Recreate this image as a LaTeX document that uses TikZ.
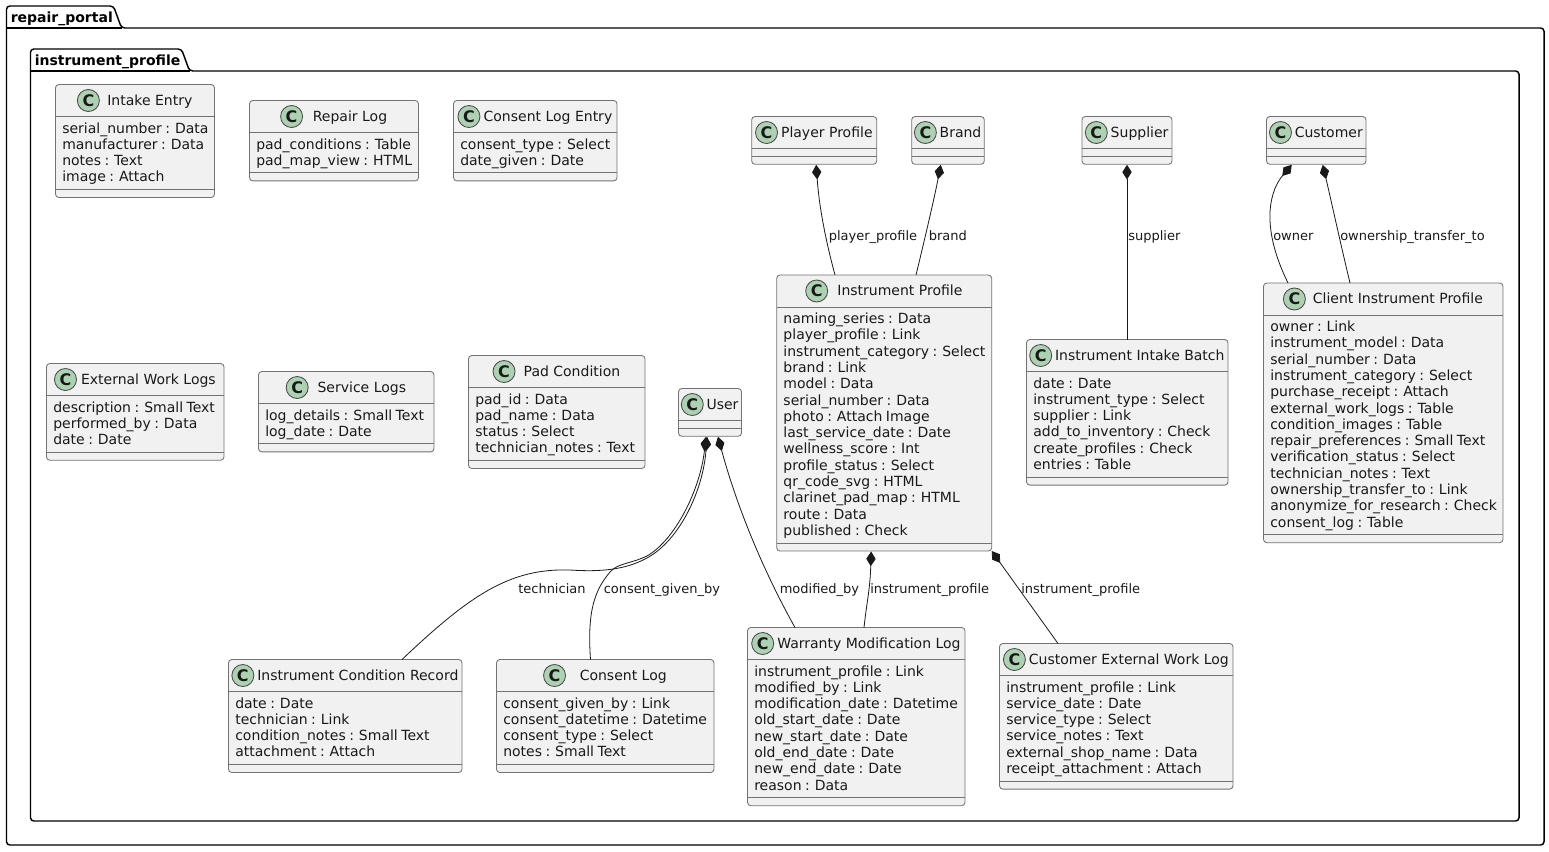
\documentclass[tikz,border=0pt]{standalone}
\usepackage{fontspec}
\setmainfont{DejaVu Sans}
\usetikzlibrary{positioning,calc,arrows.meta}

\definecolor{classfill}{HTML}{F1F1F1}
\definecolor{classicon}{HTML}{ADD1B2}
\newcommand{\fieldgap}{\spaceskip=2.6pt\relax}
\newlength{\titlewide}
\newsavebox{\titlebox}

\tikzset{
    classbox/.style={draw=black!55, fill=classfill, line width=0.65pt, rounded corners=2.5pt, inner sep=0pt, outer sep=0pt, anchor=north west},
    classrule/.style={draw=black!55, line width=0.65pt},
    classtitle/.style={inner sep=0pt, anchor=base, font=\fontsize{10.5}{12}\selectfont, text=black!90},
    classmark/.style={circle, draw=black!70, fill=classicon, line width=0.65pt, minimum size=16.5pt, inner sep=0pt, font=\fontsize{12}{12}\bfseries\selectfont, text=black!90},
    fieldtext/.style={inner sep=0pt, anchor=base west, font=\fontsize{10.5}{12}\selectfont, execute at begin node=\fieldgap, text=black!90},
    linklabel/.style={inner sep=0pt, anchor=base west, font=\fontsize{9.75}{12}\selectfont, text=black!90},
    composed/.style={{Diamond[length=11pt,width=7pt]}-, line width=0.6pt, color=black!90},
    pkgline/.style={draw=black, line width=1.1pt, fill=white, rounded corners=2.5pt},
    pkglabel/.style={inner sep=0pt, anchor=base west, font=\fontsize{10.5}{12}\bfseries\selectfont}
}

% name, left, right, top, title, number of fields, fields
\newcommand{\umlclass}[7]{
    \pgfinterruptpicture
    \sbox{\titlebox}{\normalfont\fontsize{10.5}{12}\selectfont #5}
    \global\titlewide=\wd\titlebox
    \endpgfinterruptpicture
    \pgfmathsetmacro{\classtall}{32+#6*16.3+7.8+8}
    \pgfmathsetmacro{\titlegap}{2+0.11*((#3-#2)-22-\titlewide/0.75)}
    \pgfmathsetmacro{\classmid}{(#2+#3)/2+(22+\titlegap)/2}
    \node[classbox, minimum width={(#3-#2)*0.75pt}, minimum height={\classtall*0.75pt}] (#1) at (#2,#4) {};
    \draw[classrule] ($(#1.north west)+(0,32)$) -- ($(#1.north east)+(0,32)$);
    \draw[classrule] ($(#1.south west)+(0,-8)$) -- ($(#1.south east)+(0,-8)$);
    \node[classtitle] (#1-title) at (\classmid,#4+20.7) {#5};
    \node[classmark] (#1-mark) at ($(#1-title.base west)+(-\titlegap-11,-4.7)$) {C};
    \foreach \fld [count=\i] in {#7} {
        \node[fieldtext] (#1-f\i) at (#2+6.5,#4+32.2+\i*16.3) {\fld};
    }
}
% left, top, tab right, right, bottom, title
\newcommand{\umlpackage}[7]{
    \draw[pkgline] (#2,#3+22) -- (#2,#3) -- (#4-8,#3) -- (#4,#3+22) -- (#5,#3+22) -- (#5,#6) -- (#2,#6) -- cycle;
    \draw[pkgline, fill=none] (#2,#3+22) -- (#4,#3+22);
    \node[pkglabel] (#1) at (#2+4,#3+16.5) {#7};
}

\begin{document}
\begin{tikzpicture}[x=0.75pt, y=-0.75pt]
    \useasboundingbox (0,0) rectangle (1549,851);
    % the two packages
    \umlpackage{portal}{6.5}{6}{121.5}{1544}{845}{repair\_portal}
    \umlpackage{profiles}{30.5}{49}{189.5}{1519}{821}{instrument\_profile}
    % classes without links
    \umlclass{intake}{55.5}{214.5}{84.5}{Intake Entry}{4}{serial\_number : Data, manufacturer : Data, notes : Text, image : Attach}
    \umlclass{repairlog}{249.5}{418.5}{100.5}{Repair Log}{2}{pad\_conditions : Table, pad\_map\_view : HTML}
    \umlclass{consententry}{453.5}{617}{100.5}{Consent Log Entry}{2}{consent\_type : Select, date\_given : Date}
    \umlclass{externallogs}{46.5}{224}{363.5}{External Work Logs}{3}{description : Small Text, performed\_by : Data, date : Date}
    \umlclass{servicelogs}{258.5}{434}{371.5}{Service Logs}{2}{log\_details : Small Text, log\_date : Date}
    \umlclass{padcondition}{468.5}{645}{355.5}{Pad Condition}{4}{pad\_id : Data, pad\_name : Data, status : Select, technician\_notes : Text}
    % classes on the top row
    \umlclass{player}{751.7}{876.7}{116.5}{Player Profile}{0}{}
    \umlclass{brand}{911.7}{984.3}{116.5}{Brand}{0}{}
    \umlclass{supplier}{1082}{1172}{116.5}{Supplier}{0}{}
    \umlclass{customer}{1266.5}{1366}{116.5}{Customer}{0}{}
    \umlclass{user}{678.5}{741.5}{388.5}{User}{0}{}
    % the linked classes
    \umlclass{profile}{776.7}{991.7}{275}{Instrument Profile}{14}{naming\_series : Data, player\_profile : Link, instrument\_category : Select, brand : Link, model : Data, serial\_number : Data, photo : Attach Image, last\_service\_date : Date, wellness\_score : Int, profile\_status : Select, qr\_code\_svg : HTML, clarinet\_pad\_map : HTML, route : Data, published : Check}
    \umlclass{batch}{1026.5}{1228}{339.5}{Instrument Intake Batch}{6}{date : Date, instrument\_type : Select, supplier : Link, add\_to\_inventory : Check, create\_profiles : Check, entries : Table}
    \umlclass{client}{1263.5}{1503}{283}{Client Instrument Profile}{13}{owner : Link, instrument\_model : Data, serial\_number : Data, instrument\_category : Select, purchase\_receipt : Attach, external\_work\_logs : Table, condition\_images : Table, repair\_preferences : Small Text, verification\_status : Select, technician\_notes : Text, ownership\_transfer\_to : Link, anonymize\_for\_research : Check, consent\_log : Table}
    \umlclass{condition}{228.5}{462}{659.5}{Instrument Condition Record}{4}{date : Date, technician : Link, condition\_notes : Small Text, attachment : Attach}
    \umlclass{consent}{496.5}{714}{659.5}{Consent Log}{4}{consent\_given\_by : Link, consent\_datetime : Datetime, consent\_type : Select, notes : Small Text}
    \umlclass{warranty}{747.5}{965}{627.5}{Warranty Modification Log}{8}{instrument\_profile : Link, modified\_by : Link, modification\_date : Datetime, old\_start\_date : Date, new\_start\_date : Date, old\_end\_date : Date, new\_end\_date : Date, reason : Data}
    \umlclass{workshop}{999.5}{1233}{643.5}{Customer External Work Log}{6}{instrument\_profile : Link, service\_date : Date, service\_type : Select, service\_notes : Text, external\_shop\_name : Data, receipt\_attachment : Attach}
    % the links
    \draw[composed] ($(player.south)+(2,0.5)$) .. controls (819,205) and (825,238) .. (profile.north -| 835,0);
    \draw[composed] ($(brand.south)+(-7.3,0.5)$) .. controls (935,195) and (925,238) .. (profile.north -| 916,0);
    \draw[composed] ($(supplier.south)+(0,0.5)$) -- (batch.north -| supplier.south);
    \draw[composed] ($(customer.south)+(-24.5,0.5)$) .. controls (1272,188) and (1258,222) .. (client.north -| 1288,0);
    \draw[composed] ($(customer.south)+(6.5,0.5)$) .. controls (1331,200) and (1342,250) .. (client.north -| 1350,0);
    \draw[composed] ($(user.south)+(-3,0.5)$) .. controls (703,490) and (680,540) .. (647,558) .. controls (625,570) and (600,572) .. (570,570) .. controls (510,568) and (470,595) .. (condition.north -| 402,0);
    \draw[composed] ($(user.south)+(-4,0.5)$) .. controls (700,490) and (675,540) .. (647,556) .. controls (630,564) and (618,563) .. (610,572) .. controls (595,590) and (587,610) .. (consent.north -| 590.5,0);
    \draw[composed] ($(user.south)+(8,0.5)$) .. controls (735,500) and (760,565) .. (warranty.north -| 795,0);
    \draw[composed] ($(profile.south)+(-13,0.5)$) .. controls (870,590) and (867,600) .. (warranty.north -| 864,0);
    \draw[composed] (profile.south east) -- (workshop.north -| 1058,0);
    % labels of the links
    \node[linklabel] (l-player) at (828.5,240) {player\_profile};
    \node[linklabel] (l-brand) at (928.5,240) {brand};
    \node[linklabel] (l-supplier) at (1128,240) {supplier};
    \node[linklabel] (l-owner) at (1273,240) {owner};
    \node[linklabel] (l-transfer) at (1340,240) {ownership\_transfer\_to};
    \node[linklabel] (l-tech) at (518,593) {technician};
    \node[linklabel] (l-given) at (603.5,593) {consent\_given\_by};
    \node[linklabel] (l-modified) at (779.5,593) {modified\_by};
    \node[linklabel] (l-wprofile) at (870,593) {instrument\_profile};
    \node[linklabel] (l-cprofile) at (1021,593) {instrument\_profile};
\end{tikzpicture}
\end{document}
